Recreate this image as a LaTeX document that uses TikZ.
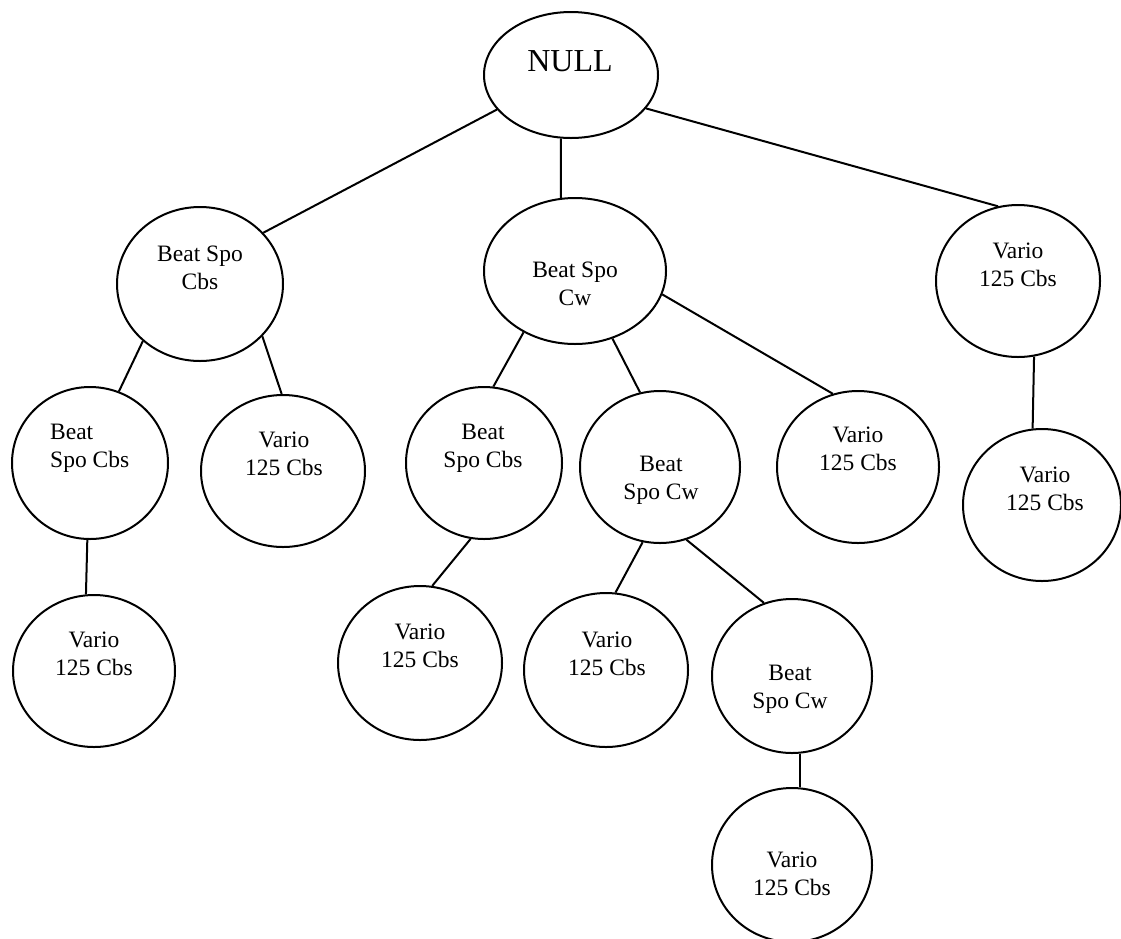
\documentclass[tikz,border=0pt]{standalone}
\usepackage{fontspec}
\setmainfont{Liberation Serif}
\usetikzlibrary{shapes.geometric}
\begin{document}
\begin{tikzpicture}[x=1pt,y=-1pt,
  every node/.style={inner sep=0pt},
  bub/.style={draw, ellipse, line width=2pt},
  lbl/.style={font=\fontsize{23.5}{28}\selectfont, align=center},
  edge/.style={line width=2pt}]
\useasboundingbox (0,0) rectangle (1121,938);
% ellipses
\node[bub, minimum width=174pt, minimum height=126pt] (n0) at (571,75) {};
\node[bub, minimum width=166pt, minimum height=154pt] (n1) at (200,284) {};
\node[bub, minimum width=182pt, minimum height=146pt] (n2) at (575,271) {};
\node[bub, minimum width=164pt, minimum height=152pt] (n3) at (1018,281) {};
\node[bub, minimum width=156pt, minimum height=152pt] (n11) at (90,463) {};
\node[bub, minimum width=164pt, minimum height=152pt] (n12) at (283,471) {};
\node[bub, minimum width=156pt, minimum height=152pt] (n21) at (484,463) {};
\node[bub, minimum width=160pt, minimum height=152pt] (n22) at (660,467) {};
\node[bub, minimum width=162pt, minimum height=152pt] (n23) at (858,467) {};
\node[bub, minimum width=158pt, minimum height=152pt] (n31) at (1042,505) {};
\node[bub, minimum width=162pt, minimum height=152pt] (n111) at (94,671) {};
\node[bub, minimum width=164pt, minimum height=154pt] (n211) at (420,663) {};
\node[bub, minimum width=164pt, minimum height=154pt] (n221) at (606,670) {};
\node[bub, minimum width=160pt, minimum height=154pt] (n222) at (792,676) {};
\node[bub, minimum width=160pt, minimum height=154pt] (n2221) at (792,865) {};
% texts
\node[font=\fontsize{32}{38}\selectfont, anchor=base] (t0) at (570,71) {NULL};
\node[lbl] (t1) at (200,270) {\strut Beat Spo\\\strut Cbs};
\node[lbl] (t2) at (575,286) {\strut Beat Spo\\\strut Cw};
\node[lbl] (t3) at (1018,267) {\strut Vario\\\strut 125 Cbs};
\node[lbl, align=left, anchor=west] (t11) at (50,448) {\strut Beat\\\strut Spo Cbs};
\node[lbl] (t12) at (284,456) {\strut Vario\\\strut 125 Cbs};
\node[lbl] (t21) at (483,448) {\strut Beat\\\strut Spo Cbs};
\node[lbl] (t22) at (661,480) {\strut Beat\\\strut Spo Cw};
\node[lbl] (t23) at (858,451) {\strut Vario\\\strut 125 Cbs};
\node[lbl] (t31) at (1045,491) {\strut Vario\\\strut 125 Cbs};
\node[lbl] (t111) at (94,656) {\strut Vario\\\strut 125 Cbs};
\node[lbl] (t211) at (420,648) {\strut Vario\\\strut 125 Cbs};
\node[lbl] (t221) at (607,656) {\strut Vario\\\strut 125 Cbs};
\node[lbl] (t222) at (790,689) {\strut Beat\\\strut Spo Cw};
\node[lbl] (t2221) at (792,876) {\strut Vario\\\strut 125 Cbs};
% connectors
\draw[edge] (n0.205) -- (n1.39);
\draw[edge] (n0.261) -- (n2.101);
\draw[edge] (n0.336) -- (n3.105);
\draw[edge] (n1.225) -- (n11.68);
\draw[edge] (n1.320) -- (n12.91);
\draw[edge] (n2.230) -- (n21.83);
\draw[edge] (n2.299) -- (n22.105);
\draw[edge] (n2.345) -- (n23.109);
\draw[edge] (n3.282) -- (n31.97);
\draw[edge] (n11.268) -- (n111.96);
\draw[edge] (n21.260) -- (n211.81);
\draw[edge] (n22.257) -- (n221.83);
\draw[edge] (n22.290) -- (n222.111);
\draw[edge] (n222.276) -- (n2221.84);
\end{tikzpicture}
\end{document}
